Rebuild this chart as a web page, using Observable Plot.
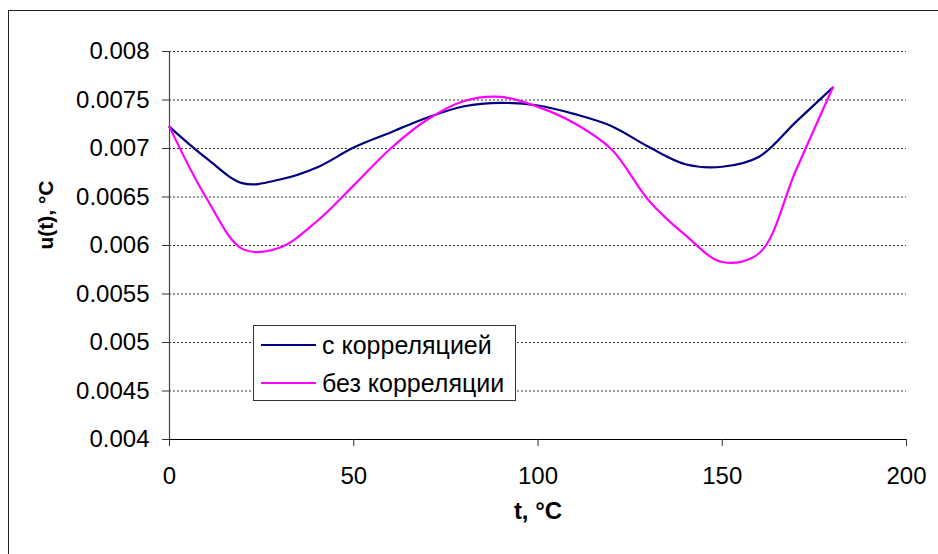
<!DOCTYPE html>
<html>
<head>
<meta charset="utf-8">
<script src="https://cdn.jsdelivr.net/npm/d3@7"></script>
<script src="https://cdn.jsdelivr.net/npm/@observablehq/plot@0.6"></script>
<style>
  html, body { margin: 0; padding: 0; background: #fff; overflow: hidden; }
  #wrap { position: relative; width: 938px; height: 554px; overflow: hidden; font-family: "Liberation Sans", Arial, sans-serif; }
  #frame { position: absolute; left: 8px; top: 10px; width: 1200px; height: 1200px; border: 1.5px solid #222; box-sizing: border-box; pointer-events: none; }
  #legend { position: absolute; left: 253px; top: 325px; width: 263px; height: 76px; box-sizing: border-box; border: 1px solid #333; background: #fff; font-size: 25px; color: #000; }
  .row { position: absolute; left: 0; height: 30px; display: flex; align-items: center; }
  .swatch { width: 55px; height: 2px; margin-left: 7px; margin-right: 6px; }
</style>
</head>
<body>
<div id="wrap">
  <div id="chart"></div>
  <div id="frame"></div>
  <div id="legend"></div>
</div>
<script>
const tValues = [0, 10, 20, 30, 40, 50, 60, 70, 80, 90, 100, 110, 120, 130, 140, 150, 160, 170, 180];
const withCorrelation = [0.007223, 0.00690, 0.00664, 0.00668, 0.006804, 0.00701, 0.007165, 0.00732, 0.007436, 0.00747, 0.007443, 0.007354, 0.00723, 0.007017, 0.006838, 0.006812, 0.006915, 0.007274, 0.007629];
const withoutCorrelation = [0.007223, 0.00649, 0.00596, 0.00598, 0.00625, 0.00662, 0.007, 0.007299, 0.00749, 0.007532, 0.007429, 0.007258, 0.00699, 0.006467, 0.006106, 0.00583, 0.00592, 0.006776, 0.007629];
const seriesNames = ["с корреляцией", "без корреляции"];
const seriesColors = ["#000080", "#ff00ff"];
const xTicks = [0, 50, 100, 150, 200];
const yTicks = [0.004, 0.0045, 0.005, 0.0055, 0.006, 0.0065, 0.007, 0.0075, 0.008];
const xTitle = "t, °C";
const yTitle = "u(t), °C";

const s1 = tValues.map((t, i) => ({t, u: withCorrelation[i]}));
const s2 = tValues.map((t, i) => ({t, u: withoutCorrelation[i]}));
const font = "'Liberation Sans', Arial, sans-serif";

const chart = Plot.plot({
  width: 938,
  height: 554,
  marginLeft: 169,
  marginRight: 32,
  marginTop: 51,
  marginBottom: 115,
  style: {fontFamily: font, fontSize: "24px", color: "#000", background: "transparent", overflow: "visible"},
  x: {domain: [0, 200]},
  y: {domain: [0.004, 0.008]},
  marks: [
    Plot.gridY(yTicks.filter(v => v > 0.004), {stroke: "#000", strokeOpacity: 0.8, strokeDasharray: "2,2"}),
    Plot.ruleY([0.004], {stroke: "#000", strokeWidth: 1.2}),
    Plot.ruleX([0], {stroke: "#444", strokeWidth: 1.2}),
    Plot.axisX({ticks: xTicks, tickSize: 7, tickPadding: 20, label: null, fontSize: 24, stroke: "#333"}),
    Plot.axisY({ticks: yTicks, tickSize: 7, tickPadding: 13, label: null, fontSize: 24, stroke: "#333",
      tickFormat: d => String(+d.toFixed(4))}),
    Plot.line(s1, {x: "t", y: "u", stroke: seriesColors[0], strokeWidth: 2.2, curve: "catmull-rom"}),
    Plot.line(s2, {x: "t", y: "u", stroke: seriesColors[1], strokeWidth: 2.2, curve: "catmull-rom"}),
    Plot.text([yTitle], {frameAnchor: "left", dx: -123, dy: 4, rotate: -90, fontWeight: "bold", fontSize: 21, fill: "#000"}),
    Plot.text([xTitle], {frameAnchor: "bottom", dy: 79, fontWeight: "bold", fontSize: 24, fill: "#000"})
  ]
});
document.getElementById("chart").appendChild(chart);

const legend = document.getElementById("legend");
seriesNames.forEach((name, i) => {
  const row = document.createElement("div");
  row.className = "row";
  row.style.top = (4 + i * 38) + "px";
  const sw = document.createElement("div");
  sw.className = "swatch";
  sw.style.background = seriesColors[i];
  const label = document.createElement("span");
  label.textContent = name;
  row.appendChild(sw);
  row.appendChild(label);
  legend.appendChild(row);
});
</script>
</body>
</html>
